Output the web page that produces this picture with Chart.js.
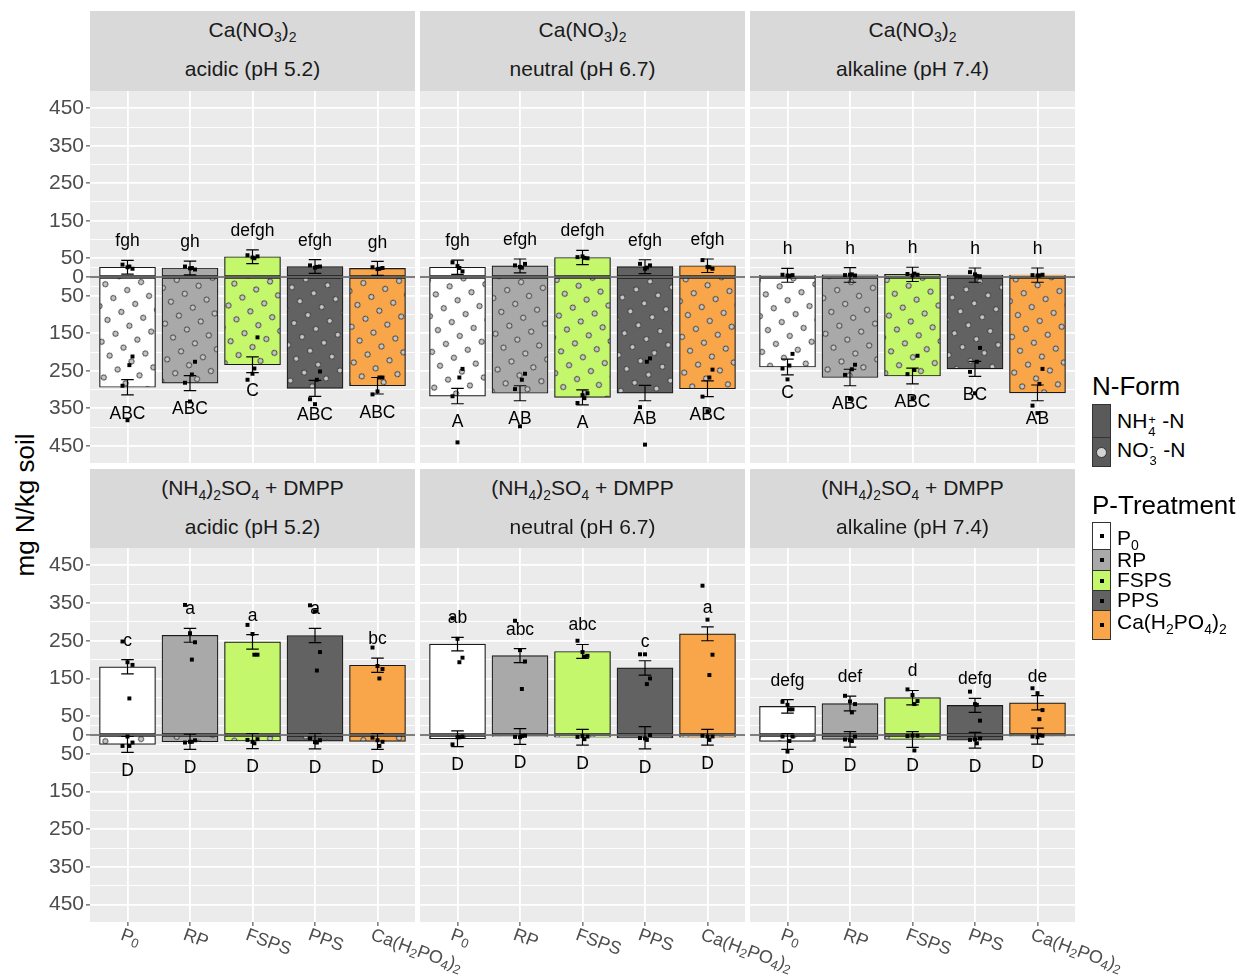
<!DOCTYPE html>
<html>
<head>
<meta charset="utf-8">
<script src="https://cdn.jsdelivr.net/npm/chart.js@4.4.1/dist/chart.umd.min.js"></script>
<style>
  body { margin: 0; background: #fff; font-family: "Liberation Sans", Arial, sans-serif; }
  #wrap { position: relative; width: 1252px; height: 978px; overflow: hidden; background: #fff; }
  canvas { position: absolute; }
  .strip { position: absolute; background: #d9d9d9; color: #1a1a1a; font-size: 21px; }
  .strip .l { position: absolute; left: 0; right: 0; text-align: center; line-height: 24px; white-space: nowrap; }
  .sb { font-size: 14px; position: relative; top: 5px; }
  .ylab { position: absolute; left: 25px; top: 505px; font-size: 26px; color: #000; white-space: nowrap;
          transform: translate(-50%, -50%) rotate(-90deg); }
  .lg-title { position: absolute; left: 1092px; font-size: 26px; color: #000; line-height: 30px; }
  .key { position: absolute; left: 1092px; width: 19px; box-sizing: border-box; border: 1px solid #333; }
  .key .dot { position: absolute; left: 50%; top: 50%; width: 4px; height: 4px; margin: -2px 0 0 -2px; background: #000; }
  .key .circ { position: absolute; left: 50%; top: 50%; width: 11px; height: 11px; margin: -5.5px 0 0 -5.5px;
               border-radius: 50%; background: #d3d3d3; border: 1px solid #333; box-sizing: border-box; }
  .lg-text { position: absolute; left: 1117px; font-size: 21px; color: #000; line-height: 24px; white-space: nowrap; }
  .stk { display: inline-block; position: relative; width: 9px; height: 10px; }
  .stk i { font-style: normal; font-size: 13px; position: absolute; left: 1px; line-height: 13px; }
</style>
</head>
<body>
<div id="wrap">
  <div class="ylab">mg N/kg soil</div>
</div>
<script>
// x categories (P-treatments), "_x" marks a subscript character
const categories = ['P_0', 'RP', 'FSPS', 'PPS', 'Ca(H_2PO_4)_2'];
const fillColors = ['#ffffff', '#a9a9a9', '#c4f76b', '#626262', '#f9a64a'];

// facet labels
const fertLabels = ['Ca(NO<span class="sb">3</span>)<span class="sb">2</span>',
  '(NH<span class="sb">4</span>)<span class="sb">2</span>SO<span class="sb">4</span> + DMPP'];
const phLabels = ['acidic (pH 5.2)', 'neutral (pH 6.7)', 'alkaline (pH 7.4)'];

// y axis breaks (labels shown as absolute values)
const yMajor = [-450, -350, -250, -150, -50, 0, 50, 150, 250, 350, 450];
const yMinor = [-400, -300, -200, -100, -25, 25, 100, 200, 300, 400];

// panels: 0-2 = Ca(NO3)2 acidic/neutral/alkaline, 3-5 = (NH4)2SO4+DMPP acidic/neutral/alkaline
const nh4Mean = [
  [26, 24, 54, 28, 23],
  [26, 29.5, 52, 27.5, 30],
  [4.5, 5.5, 7, 5, 5],
  [181, 264.5, 247, 264, 185],
  [241, 210.5, 221.5, 178, 268.5],
  [76, 83.5, 99, 78.5, 85.5]
];
const nh4Se = [
  [18.5, 18.5, 18.5, 18.5, 18.5],
  [19, 18.5, 19, 18.5, 18],
  [18.5, 19.5, 19, 19, 19],
  [19, 18.5, 19, 19, 19],
  [18, 18.5, 18.5, 19, 18.5],
  [18, 19.5, 19, 18.5, 19]
];
// nitrate values, plotted below zero
const no3Mean = [
  [294, 283, 234, 297, 290],
  [317.5, 310, 321, 309.5, 298],
  [240, 268, 264, 245, 309],
  [25, 18, 16, 16.5, 17],
  [10, 4, 6, 7.5, 6],
  [17, 11.5, 12, 14, 3]
];
const no3Se = [
  [20.5, 20, 21, 21.5, 22],
  [20.5, 20, 20, 20.5, 21],
  [21, 22, 21, 20, 21],
  [21, 20, 20, 20.5, 21],
  [21, 21, 21, 29.5, 21],
  [21, 20.5, 21, 21, 21]
];
const nh4Points = [
  [[33, 26, 22, 28], [28, 23, 20, 24], [58, 52, 55, 50], [31, 25, 28, 27], [26, 21, 24, 22]],
  [[39, 29, 15, 24], [31, 27, 35, 25], [53, 55, 50, 51], [35, 22, 31, 25], [45, 27, 22, 26]],
  [[6, 4, 5, 3], [5, 6, 4, 7], [8, 4, 6, 9], [13, 7, 2, 3], [5, 4, 6, 4]],
  [[248, 193, 186, 97], [345, 270, 246, 200], [292, 268, 213, 213], [344, 328, 220, 171], [232, 183, 175, 150]],
  [[310, 255, 205, 193], [303, 225, 195, 122], [250, 220, 210, 208], [214, 214, 150, 135], [396, 306, 213, 159]],
  [[88, 80, 68, 68], [104, 89, 82, 60], [121, 106, 90, 82], [115, 82, 38, 80], [124, 111, 66, 42]]
];
const no3Points = [
  [[212, 235, 290, 382], [226, 260, 282, 332], [161, 244, 274, 258], [252, 274, 326, 339], [268, 268, 313, 305]],
  [[245, 268, 318, 441], [258, 274, 299, 398], [310, 323, 336, 315], [217, 226, 347, 447], [247, 268, 319, 358]],
  [[205, 236, 244, 273], [234, 246, 261, 325], [210, 248, 259, 323], [189, 226, 253, 310], [245, 285, 343, 363]],
  [[20, 29, 29, 4], [14, 18, 20, 18], [11, 22, 13, 18], [14, 20, 9, 19], [18, 29, 7, 14]],
  [[4, 6, 25, 6], [2, 3, 5, 6], [4, 11, 5, 3], [0, 13, 8, 9], [4, 13, 2, 4]],
  [[4, 16, 4, 44], [4, 16, 12, 14], [2, 41, 3, 2], [9, 22, 13, 12], [2, 0, 4, 6]]
];
const jitter = [-0.08, 0.0, 0.08, 0.03];
const nh4Letters = [
  ['fgh', 'gh', 'defgh', 'efgh', 'gh'],
  ['fgh', 'efgh', 'defgh', 'efgh', 'efgh'],
  ['h', 'h', 'h', 'h', 'h'],
  ['c', 'a', 'a', 'a', 'bc'],
  ['ab', 'abc', 'abc', 'c', 'a'],
  ['defg', 'def', 'd', 'defg', 'de']
];
const no3Letters = [
  ['ABC', 'ABC', 'C', 'ABC', 'ABC'],
  ['A', 'AB', 'A', 'AB', 'ABC'],
  ['C', 'ABC', 'ABC', 'BC', 'AB'],
  ['D', 'D', 'D', 'D', 'D'],
  ['D', 'D', 'D', 'D', 'D'],
  ['D', 'D', 'D', 'D', 'D']
];

const FONT = '"Liberation Sans", Arial, sans-serif';
const wrap = document.getElementById('wrap');
const panelLeft = [90, 420, 750];
const panelW = 325;
const stripTop = [11, 469];
const plotTop = [91, 548];
const plotH = [372, 374];

function makePattern(color) {
  const tile = document.createElement('canvas');
  tile.width = 16; tile.height = 16;
  const c = tile.getContext('2d');
  c.fillStyle = color;
  c.fillRect(0, 0, 16, 16);
  c.beginPath();
  c.arc(8, 8, 2.6, 0, Math.PI * 2);
  c.fillStyle = '#c8c8c8';
  c.fill();
  c.lineWidth = 0.9;
  c.strokeStyle = '#333';
  c.stroke();
  const p = document.createElement('canvas').getContext('2d').createPattern(tile, 'repeat');
  p.setTransform(new DOMMatrix().rotateSelf(-30));
  return p;
}
const patterns = fillColors.map(makePattern);

function drawRich(ctx, text, x, y, size) {
  const parts = text.split(/(_.)/).filter(Boolean);
  let cx = x;
  parts.forEach(p => {
    const sub = p[0] === '_';
    const t = sub ? p[1] : p;
    ctx.font = `${sub ? Math.round(size * 0.7) : size}px ${FONT}`;
    ctx.fillText(t, cx, y + (sub ? size * 0.38 : 0));
    cx += ctx.measureText(t).width;
  });
}

function decorPlugin(p, bottom) {
  return {
    id: 'decor' + p,
    beforeDraw(chart) {
      const a = chart.chartArea;
      chart.ctx.save();
      chart.ctx.fillStyle = '#ebebeb';
      chart.ctx.fillRect(a.left, a.top, a.right - a.left, a.bottom - a.top);
      chart.ctx.restore();
    },
    afterDatasetsDraw(chart) {
      const ctx = chart.ctx;
      const xs = chart.scales.x;
      const ys = chart.scales.y;
      const a = chart.chartArea;
      ctx.save();
      ctx.strokeStyle = '#000';
      ctx.lineWidth = 1.2;
      const bar = (xv, lo, hi) => {
        const x = xs.getPixelForValue(xv);
        const x0 = xs.getPixelForValue(xv - 0.1);
        const x1 = xs.getPixelForValue(xv + 0.1);
        const y0 = ys.getPixelForValue(lo);
        const y1 = ys.getPixelForValue(hi);
        ctx.beginPath();
        ctx.moveTo(x, y0); ctx.lineTo(x, y1);
        ctx.moveTo(x0, y0); ctx.lineTo(x1, y0);
        ctx.moveTo(x0, y1); ctx.lineTo(x1, y1);
        ctx.stroke();
      };
      categories.forEach((c, i) => {
        bar(i + 1, nh4Mean[p][i] - nh4Se[p][i], nh4Mean[p][i] + nh4Se[p][i]);
        bar(i + 1, -no3Mean[p][i] - no3Se[p][i], -no3Mean[p][i] + no3Se[p][i]);
      });
      // zero line
      const yz = ys.getPixelForValue(0);
      ctx.beginPath();
      ctx.moveTo(a.left, yz); ctx.lineTo(a.right, yz);
      ctx.stroke();
      // letters
      ctx.fillStyle = '#000';
      ctx.font = `17.5px ${FONT}`;
      ctx.textAlign = 'center';
      ctx.textBaseline = 'middle';
      categories.forEach((c, i) => {
        const x = xs.getPixelForValue(i + 1);
        ctx.fillText(nh4Letters[p][i], x, ys.getPixelForValue(nh4Mean[p][i] + nh4Se[p][i] + 50));
        ctx.fillText(no3Letters[p][i], x, ys.getPixelForValue(-no3Mean[p][i] - no3Se[p][i] - 50));
      });
      ctx.restore();
    },
    afterDraw(chart) {
      if (!bottom) return;
      const ctx = chart.ctx;
      const xs = chart.scales.x;
      const a = chart.chartArea;
      ctx.save();
      ctx.fillStyle = '#4d4d4d';
      ctx.textAlign = 'left';
      ctx.textBaseline = 'top';
      categories.forEach((c, i) => {
        ctx.save();
        ctx.translate(xs.getPixelForValue(i + 1) - 3, a.bottom + 4);
        ctx.rotate(Math.PI / 9);
        drawRich(ctx, c, 0, 0, 18);
        ctx.restore();
      });
      ctx.restore();
    }
  };
}

function makePanel(p) {
  const row = Math.floor(p / 3);
  const col = p % 3;
  const left = col === 0;
  const bottom = row === 1;
  const axisW = left ? 50 : 0;
  const axisH = bottom ? 56 : 0;
  const padR = bottom ? 60 : 0;

  const strip = document.createElement('div');
  strip.className = 'strip';
  strip.style.left = panelLeft[col] + 'px';
  strip.style.top = stripTop[row] + 'px';
  strip.style.width = panelW + 'px';
  strip.style.height = (plotTop[row] - stripTop[row]) + 'px';
  strip.innerHTML = `<div class="l" style="top:7px">${fertLabels[row]}</div>` +
    `<div class="l" style="top:46px">${phLabels[col]}</div>`;
  wrap.appendChild(strip);

  const canvas = document.createElement('canvas');
  canvas.width = panelW + axisW + padR;
  canvas.height = plotH[row] + axisH;
  canvas.style.left = (panelLeft[col] - axisW) + 'px';
  canvas.style.top = plotTop[row] + 'px';
  wrap.appendChild(canvas);

  const pts = [];
  categories.forEach((c, i) => {
    nh4Points[p][i].forEach((v, k) => pts.push({ x: i + 1 + jitter[k], y: v }));
    no3Points[p][i].forEach((v, k) => pts.push({ x: i + 1 + jitter[(k + 2) % 4], y: -v }));
  });

  const isMajor = v => yMajor.includes(v);

  new Chart(canvas, {
    type: 'bar',
    data: {
      datasets: [
        {
          type: 'scatter',
          data: pts,
          pointStyle: 'rect',
          pointRadius: 2.8,
          backgroundColor: '#000',
          borderWidth: 0,
          order: 0
        },
        {
          label: 'NH4+-N',
          data: categories.map((c, i) => ({ x: i + 1, y: nh4Mean[p][i] })),
          backgroundColor: fillColors,
          borderColor: '#1a1a1a',
          borderWidth: 1.2,
          borderSkipped: false,
          barThickness: 56,
          grouped: false,
          order: 1
        },
        {
          label: 'NO3--N',
          data: categories.map((c, i) => ({ x: i + 1, y: -no3Mean[p][i] })),
          backgroundColor: patterns,
          borderColor: '#1a1a1a',
          borderWidth: 1.2,
          borderSkipped: false,
          barThickness: 56,
          grouped: false,
          order: 1
        }
      ]
    },
    options: {
      responsive: false,
      animation: false,
      events: [],
      devicePixelRatio: 1,
      layout: { autoPadding: false, padding: { top: 0, right: padR, bottom: 0, left: 0 } },
      plugins: { legend: { display: false }, tooltip: { enabled: false } },
      scales: {
        x: {
          type: 'linear',
          min: 0.4,
          max: 5.6,
          offset: false,
          afterBuildTicks(s) { s.ticks = [1, 2, 3, 4, 5].map(v => ({ value: v })); },
          afterFit(s) { s.height = axisH; s.paddingLeft = 0; s.paddingRight = 0; },
          ticks: { display: false },
          border: { display: false },
          grid: { offset: false, color: '#ffffff', lineWidth: 1.8, drawTicks: bottom, tickLength: 4, tickColor: '#333', tickWidth: 1 }
        },
        y: {
          min: -496,
          max: 496,
          afterBuildTicks(s) { s.ticks = yMajor.concat(yMinor).sort((a, b) => a - b).map(v => ({ value: v })); },
          afterFit(s) { s.width = axisW; s.paddingTop = 0; s.paddingBottom = 0; },
          ticks: {
            display: left,
            autoSkip: false,
            padding: 2,
            color: '#4d4d4d',
            font: { size: 21, family: FONT },
            callback: v => (isMajor(v) ? String(Math.abs(v)) : '')
          },
          border: { display: false },
          grid: {
            color: '#ffffff',
            lineWidth: ctx => (ctx.tick && isMajor(ctx.tick.value) ? 1.8 : 0.9),
            drawTicks: left,
            tickLength: 4,
            tickWidth: 1,
            tickColor: ctx => (ctx.tick && isMajor(ctx.tick.value) ? '#333' : 'rgba(0,0,0,0)')
          }
        }
      }
    },
    plugins: [decorPlugin(p, bottom)]
  });
}

for (let p = 0; p < 6; p++) makePanel(p);

// legend
const legendHtml = `
  <div class="lg-title" style="top:371px">N-Form</div>
  <div class="key" style="top:404px;height:34px;background:#5a5a5a"></div>
  <div class="key" style="top:437px;height:30px;background:#5a5a5a"><div class="circ"></div></div>
  <div class="lg-text" style="top:409px">NH<span class="stk"><i style="top:-5px">+</i><i style="top:7px">4</i></span> -N</div>
  <div class="lg-text" style="top:438px">NO<span class="stk"><i style="top:-7px">-</i><i style="top:7px">3</i></span> -N</div>
  <div class="lg-title" style="top:490px">P-Treatment</div>
  <div class="key" style="top:522px;height:28px;background:${fillColors[0]}"><div class="dot"></div></div>
  <div class="key" style="top:549px;height:22px;background:${fillColors[1]}"><div class="dot"></div></div>
  <div class="key" style="top:570px;height:21px;background:${fillColors[2]}"><div class="dot"></div></div>
  <div class="key" style="top:590px;height:21px;background:${fillColors[3]}"><div class="dot"></div></div>
  <div class="key" style="top:610px;height:30px;background:${fillColors[4]}"><div class="dot"></div></div>
  <div class="lg-text" style="top:526px">P<span class="sb">0</span></div>
  <div class="lg-text" style="top:548px">RP</div>
  <div class="lg-text" style="top:568px">FSPS</div>
  <div class="lg-text" style="top:588px">PPS</div>
  <div class="lg-text" style="top:610px">Ca(H<span class="sb">2</span>PO<span class="sb">4</span>)<span class="sb">2</span></div>
`;
wrap.insertAdjacentHTML('beforeend', legendHtml);
</script>
</body>
</html>
